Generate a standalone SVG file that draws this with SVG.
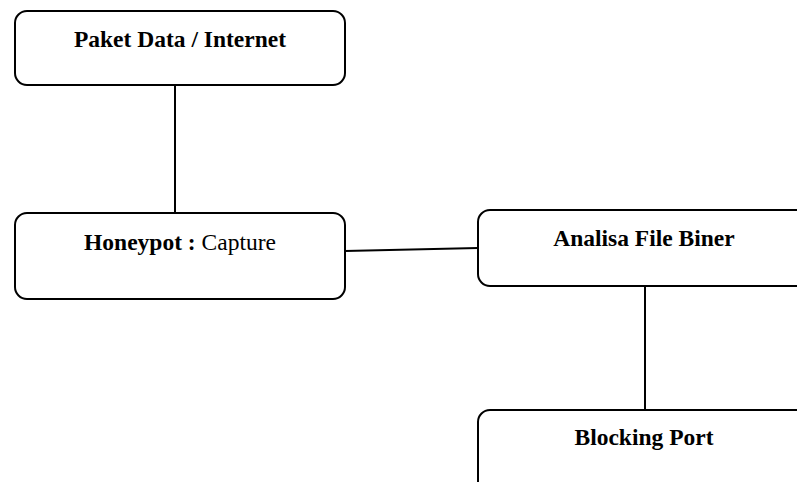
<svg xmlns="http://www.w3.org/2000/svg" width="797" height="482" viewBox="0 0 797 482">
<style>
.box{fill:#fff;stroke:#000;stroke-width:2}
.t{font-family:"Liberation Serif","Times New Roman",serif;font-size:23.5px;font-weight:bold;text-anchor:middle;fill:#000}
.n{font-weight:normal}
.c{stroke:#000;stroke-width:2;fill:none}
</style>
<rect width="797" height="482" fill="#fff"/>
<g id="connectors">
<line class="c" x1="175" y1="85" x2="175" y2="213"/>
<line class="c" x1="345" y1="251" x2="478" y2="248"/>
<line class="c" x1="645" y1="286" x2="645" y2="410"/>
</g>
<g id="node-paket">
<rect class="box" x="15" y="11" width="330" height="74" rx="12"/>
<text class="t" x="180" y="47">Paket Data / Internet</text>
</g>
<g id="node-honeypot">
<rect class="box" x="15" y="213" width="330" height="86" rx="12"/>
<text class="t" x="180" y="250">Honeypot : <tspan class="n">Capture</tspan></text>
</g>
<g id="node-analisa">
<rect class="box" x="478" y="210" width="340" height="76" rx="12"/>
<text class="t" x="644" y="246">Analisa File Biner</text>
</g>
<g id="node-blocking">
<rect class="box" x="478" y="410" width="340" height="90" rx="12"/>
<text class="t" x="644" y="445">Blocking Port</text>
</g>
</svg>
